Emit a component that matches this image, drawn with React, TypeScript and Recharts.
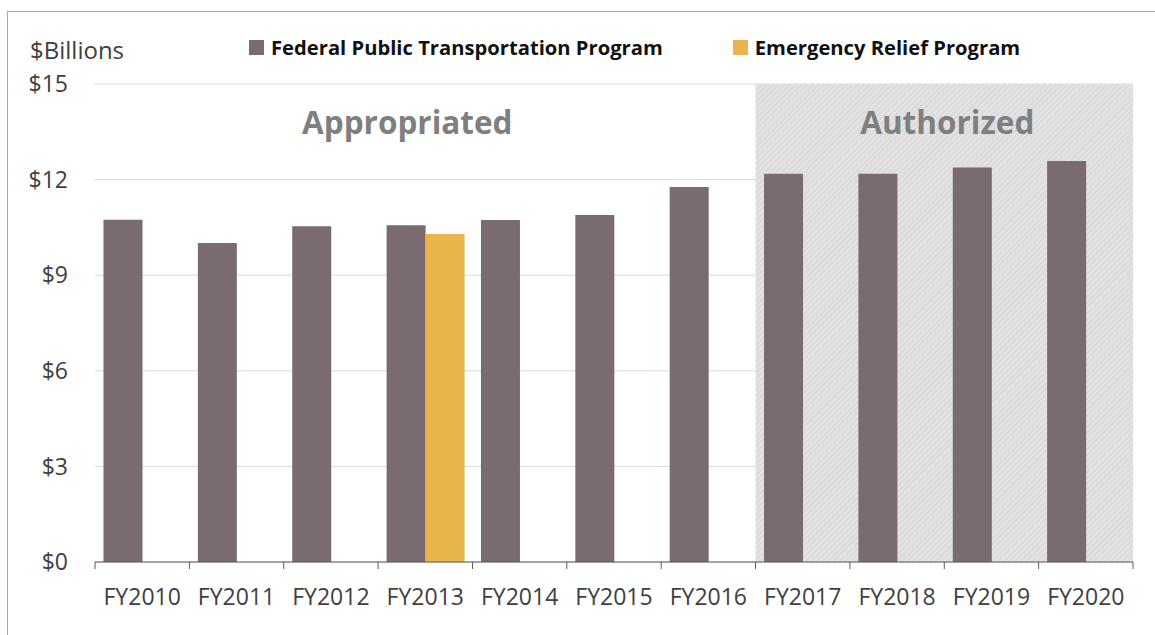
import React from 'react';
import {
  BarChart,
  Bar,
  XAxis,
  YAxis,
  CartesianGrid,
  ReferenceArea,
} from 'recharts';

const years = ['FY2010', 'FY2011', 'FY2012', 'FY2013', 'FY2014', 'FY2015', 'FY2016', 'FY2017', 'FY2018', 'FY2019', 'FY2020'];
const federalProgram = [10.74, 10.01, 10.54, 10.57, 10.73, 10.89, 11.77, 12.18, 12.18, 12.38, 12.58];
const emergencyRelief = [null, null, null, 10.29, null, null, null, null, null, null, null];
const yTicks = [0, 3, 6, 9, 12, 15];

const FONT = '"Open Sans", "Noto Sans", sans-serif';
const BAR_GREY = '#796B6F';
const BAR_GOLD = '#E9B44B';

const chartData = years.map((year, i) => ({
  year,
  federal: federalProgram[i],
  emergency: emergencyRelief[i],
}));

const legendItems = [
  { name: 'Federal Public Transportation Program', color: BAR_GREY },
  { name: 'Emergency Relief Program', color: BAR_GOLD },
];

function LegendBox() {
  return (
    <div style={{ position: 'absolute', left: 249, top: 33, display: 'flex', alignItems: 'center', fontFamily: FONT }}>
      {legendItems.map((item, i) => (
        <div key={item.name} style={{ display: 'flex', alignItems: 'center', marginRight: i === 0 ? 70 : 0 }}>
          <span style={{ width: 15, height: 15, background: item.color, display: 'inline-block', marginRight: 7 }} />
          <span style={{ fontSize: 20.2, fontWeight: 700, color: '#111' }}>{item.name}</span>
        </div>
      ))}
    </div>
  );
}

// x tick: label at the band centre, tick mark at the band boundaries
function YearTick(props: any) {
  const { x, y, payload, index, visibleTicksCount } = props;
  const half = payload.offset || 0;
  const isLast = index === visibleTicksCount - 1;
  return (
    <g>
      <line x1={x - half} x2={x - half} y1={y} y2={y + 7} stroke="#595959" />
      {isLast && <line x1={x + half} x2={x + half} y1={y} y2={y + 7} stroke="#595959" />}
      <text x={x} y={y + 43} textAnchor="middle" fill="#404040" fontSize={23} fontFamily={FONT}>
        {payload.value}
      </text>
    </g>
  );
}

function HatchShape(props: any) {
  const { x, y, width, height } = props;
  return (
    <g>
      <defs>
        <pattern id="hatch" patternUnits="userSpaceOnUse" width="4" height="4" patternTransform="rotate(45)">
          <rect width="4" height="4" fill="#DCDCDC" />
          <line x1="0" y1="0" x2="0" y2="4" stroke="#EEEEEE" strokeWidth="1.5" />
        </pattern>
      </defs>
      <rect x={x} y={y} width={width} height={height} fill="url(#hatch)" />
    </g>
  );
}

function regionLabel(text: string, dx: number) {
  return (props: any) => {
    const vb = props.viewBox;
    return (
      <text
        x={vb.x + vb.width / 2 + dx}
        y={vb.y + 50}
        textAnchor="middle"
        fill="#7F7F7F"
        fontSize={31.5}
        fontWeight={700}
        fontFamily={FONT}
      >
        {text}
      </text>
    );
  };
}

export default function App() {
  return (
    <div style={{ position: 'absolute', left: 0, top: 0, width: 1155, height: 635, background: '#fff', overflow: 'hidden' }}>
      <div
        style={{
          position: 'absolute',
          left: 7,
          top: 11,
          right: -2,
          bottom: -2,
          borderLeft: '1px solid #A6A6A6',
          borderTop: '1px solid #A6A6A6',
        }}
      />
      <div
        style={{
          position: 'absolute',
          left: 30,
          top: 33,
          fontFamily: FONT,
          fontSize: 24,
          color: '#404040',
        }}
      >
        $Billions
      </div>
      <LegendBox />
      <div style={{ position: 'absolute', left: 0, top: 0 }}>
        <BarChart
          width={1155}
          height={635}
          data={chartData}
          margin={{ top: 84, right: 22, bottom: 33, left: 25 }}
          barCategoryGap={8.5}
          barGap={0}
        >
          <CartesianGrid vertical={false} stroke="#D9D9D9" />
          <ReferenceArea x1="FY2017" x2="FY2020" y1={0} y2={15} shape={HatchShape} label={regionLabel('Authorized', 3)} />
          <ReferenceArea x1="FY2010" x2="FY2016" y1={0} y2={15} fill="none" fillOpacity={0} label={regionLabel('Appropriated', -18)} />
          <XAxis
            dataKey="year"
            height={40}
            tickLine={false}
            tickSize={0}
            tickMargin={0}
            interval={0}
            axisLine={{ stroke: '#595959' }}
            tick={<YearTick />}
          />
          <YAxis
            width={70}
            domain={[0, 15]}
            ticks={yTicks}
            axisLine={false}
            tickLine={false}
            tickSize={0}
            tickMargin={27}
            tickFormatter={(v: number) => `$${v}`}
            tick={{ fill: '#404040', fontSize: 23, fontFamily: FONT }}
          />
          <Bar dataKey="federal" name="Federal Public Transportation Program" fill={BAR_GREY} isAnimationActive={false} />
          <Bar dataKey="emergency" name="Emergency Relief Program" fill={BAR_GOLD} isAnimationActive={false} />
        </BarChart>
      </div>
    </div>
  );
}
